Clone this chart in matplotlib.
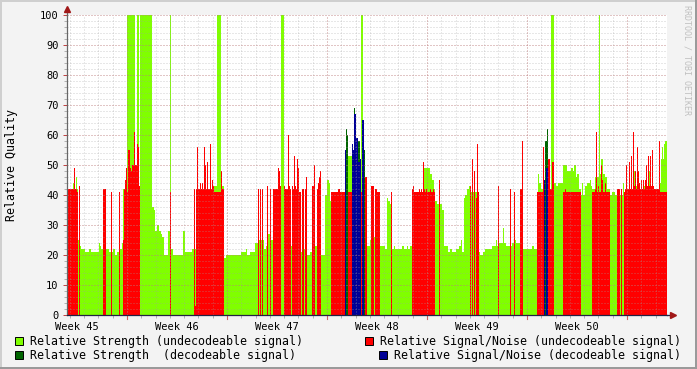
import numpy as np
import matplotlib
matplotlib.use('Agg')
import matplotlib.pyplot as plt
from matplotlib.patches import Rectangle

plt.rcParams['font.family'] = 'DejaVu Sans Mono'

# time axis: days from the left edge of the graph (six weeks shown)
t_end = 42.0

# Relative Strength (undecodeable signal) - step series (start day, value)
strength_t = [0.00, 0.42, 0.49, 0.63, 0.70, 0.77, 0.91, 0.98, 1.26, 1.54, 1.68, 2.24, 2.31, 2.38,
              2.52, 2.73, 2.94, 3.22, 3.36, 3.50, 3.71, 3.85, 3.92, 4.20, 4.76, 4.90, 5.04, 5.11,
              5.95, 6.09, 6.16, 6.30, 6.44, 6.58, 6.65, 6.79, 7.07, 7.21, 7.28, 7.42, 8.12, 8.26,
              8.75, 9.10, 10.29, 10.50, 10.78, 10.99, 11.13, 12.18, 12.53, 12.60, 12.81, 13.16,
              13.44, 13.79, 13.93, 14.07, 14.28, 14.42, 14.98, 15.19, 15.68, 15.75, 16.38, 16.59,
              16.80, 17.01, 17.36, 17.50, 17.78, 18.06, 18.20, 18.34, 18.41, 18.48, 19.67, 19.95,
              20.58, 20.72, 21.00, 21.21, 21.49, 21.56, 21.91, 22.26, 22.40, 22.47, 22.61, 22.75,
              22.89, 22.96, 23.45, 23.59, 23.80, 23.87, 24.01, 24.15, 24.92, 25.41, 25.55, 25.69,
              25.76, 25.90, 26.04, 26.11, 26.25, 26.39, 26.67, 26.81, 26.95, 27.23, 27.44, 27.58,
              27.65, 27.79, 27.86, 28.00, 28.14, 28.28, 28.84, 28.91, 29.12, 29.26, 29.75, 30.03,
              30.10, 30.24, 30.52, 30.59, 30.73, 31.15, 31.36, 31.43, 31.71, 31.92, 32.55, 32.69,
              32.90, 32.97, 33.04, 33.18, 33.32, 33.88, 34.09, 34.23, 34.37, 34.72, 35.00, 35.28,
              35.42, 35.49, 35.63, 35.70, 35.84, 35.98, 36.05, 36.12, 36.26, 36.40, 36.61, 36.68,
              36.75, 36.96, 37.24, 37.31, 37.38, 37.52, 37.66, 37.80, 38.01, 38.15, 38.36, 38.92,
              38.99, 39.69, 39.76, 39.83, 39.90, 40.39, 40.60, 40.74, 40.81, 41.09, 41.51, 41.58,
              41.65, 41.72, 41.79, 41.86]
strength_v = [42, 44, 42, 46, 42, 25, 23, 22, 21, 22, 21, 24, 23, 22,
              42, 22, 21, 22, 20, 21, 22, 24, 42, 100, 40, 100, 40, 100,
              36, 35, 28, 30, 28, 27, 26, 20, 28, 100, 22, 20, 28, 21,
              22, 40, 43, 100, 43, 19, 20, 21, 22, 20, 21, 24,
              25, 22, 23, 27, 25, 40, 100, 40, 23, 40, 21, 22,
              20, 21, 23, 40, 20, 40, 45, 44, 38, 40, 53, 40,
              100, 40, 23, 25, 26, 40, 23, 22, 39, 38, 37, 22,
              23, 22, 23, 22, 23, 22, 23, 40, 49, 47, 45, 42,
              38, 37, 38, 37, 35, 23, 21, 22, 21, 22, 23, 25,
              21, 39, 40, 42, 43, 41, 21, 20, 21, 22, 23, 25,
              23, 24, 29, 24, 23, 24, 25, 24, 40, 22, 23, 22,
              40, 47, 44, 42, 40, 100, 44, 43, 44, 50, 48, 49,
              48, 50, 46, 47, 42, 40, 44, 40, 43, 44, 45, 43,
              42, 46, 100, 47, 52, 47, 46, 42, 40, 41, 40, 44,
              40, 48, 40, 43, 40, 43, 40, 48, 40, 41, 44, 52,
              56, 52, 57, 58]

# Relative Signal/Noise (undecodeable signal), 0 = no data
snr_t = [0.00, 0.49, 0.56, 0.70, 0.77, 0.84, 0.91, 2.52, 2.73, 3.08, 3.15, 3.64, 3.71, 3.92,
         3.99, 4.06, 4.13, 4.20, 4.27, 4.41, 4.48, 4.55, 4.69, 4.76, 4.90, 4.97, 5.04, 5.11,
         7.21, 7.28, 8.89, 8.96, 9.03, 9.10, 9.17, 9.31, 9.38, 9.45, 9.52, 9.59, 9.66, 9.73,
         9.80, 9.87, 10.01, 10.08, 10.15, 10.22, 10.29, 10.78, 10.85, 10.99, 13.37, 13.44,
         13.51, 13.58, 13.65, 13.72, 14.00, 14.07, 14.21, 14.28, 14.42, 14.77, 14.84, 14.91,
         14.98, 15.19, 15.26, 15.47, 15.54, 15.61, 15.68, 15.75, 15.82, 15.89, 15.96, 16.03,
         16.10, 16.17, 16.24, 16.38, 16.45, 16.59, 16.66, 16.73, 16.80, 17.15, 17.29, 17.36,
         17.50, 17.57, 17.64, 17.71, 17.78, 18.48, 18.97, 19.11, 19.95, 20.02, 20.86, 21.00,
         21.28, 21.49, 21.56, 21.70, 21.91, 22.68, 22.75, 24.15, 24.22, 24.29, 24.64, 24.71,
         24.78, 24.85, 24.92, 24.99, 25.06, 25.13, 25.20, 25.41, 25.48, 25.62, 25.69, 25.76,
         26.04, 26.11, 28.21, 28.28, 28.35, 28.42, 28.49, 28.56, 28.63, 28.70, 28.77, 28.84,
         30.17, 30.24, 31.01, 31.08, 31.29, 31.36, 31.71, 31.85, 31.92, 32.90, 33.32, 33.39,
         33.67, 33.81, 33.95, 34.09, 34.72, 34.86, 34.93, 35.98, 36.75, 36.96, 37.03, 37.10,
         37.17, 37.24, 37.38, 37.45, 37.52, 37.66, 37.73, 38.01, 38.50, 38.71, 38.78, 38.85,
         38.99, 39.06, 39.13, 39.20, 39.34, 39.41, 39.48, 39.55, 39.62, 39.69, 39.76, 39.83,
         39.90, 39.97, 40.04, 40.11, 40.18, 40.25, 40.32, 40.39, 40.46, 40.53, 40.60, 40.67,
         40.74, 40.81, 40.88, 40.95, 41.02, 41.09, 41.44, 41.51]
snr_v = [42, 49, 42, 41, 0, 43, 0, 42, 0, 41, 0, 41, 0, 25,
         42, 45, 49, 41, 55, 49, 48, 50, 61, 50, 57, 56, 43, 0,
         41, 0, 42, 3, 42, 56, 42, 44, 42, 44, 42, 56, 50, 42,
         51, 42, 57, 42, 45, 43, 41, 48, 42, 0, 42, 0,
         42, 0, 42, 0, 43, 0, 42, 0, 42, 49, 48, 43,
         0, 43, 42, 60, 43, 42, 0, 43, 42, 53, 43, 42,
         52, 49, 41, 0, 42, 0, 42, 46, 0, 43, 50, 0,
         42, 44, 46, 48, 0, 41, 42, 41, 45, 41, 46, 0,
         43, 0, 42, 41, 0, 41, 0, 42, 43, 41, 42, 41,
         42, 41, 51, 42, 41, 42, 41, 42, 41, 42, 41, 0,
         45, 0, 43, 0, 52, 0, 48, 0, 39, 57, 41, 0,
         43, 0, 42, 0, 41, 0, 42, 58, 0, 41, 56, 41,
         52, 42, 51, 0, 41, 42, 41, 0, 41, 42, 61, 41,
         43, 41, 50, 45, 41, 44, 41, 0, 42, 0, 42, 0,
         41, 42, 50, 42, 51, 42, 53, 42, 61, 43, 48, 42,
         56, 48, 44, 42, 45, 42, 45, 42, 45, 50, 43, 53,
         43, 53, 43, 55, 43, 42, 58, 41]

# Relative Strength (decodeable signal)
dec_strength_t = [19.46, 19.53, 19.60, 19.67, 19.95, 20.09, 20.16, 20.51, 20.58, 20.79, 20.86,
                  33.46, 33.60, 33.67]
dec_strength_v = [55, 62, 60, 0, 55, 69, 58, 52, 0, 55, 0, 58, 62, 0]

# Relative Signal/Noise (decodeable signal)
dec_snr_t = [19.46, 19.53, 19.95, 20.02, 20.09, 20.23, 20.37, 20.51, 20.58, 20.65, 20.79,
             33.39, 33.46, 33.53, 33.67]
dec_snr_v = [55, 0, 57, 55, 67, 59, 51, 52, 0, 65, 0, 45, 0, 49, 0]

week_labels = ['Week 45', 'Week 46', 'Week 47', 'Week 48', 'Week 49', 'Week 50']
week_label_days = [0.7, 7.7, 14.7, 21.7, 28.7, 35.7]
week_start_days = [4.2, 11.2, 18.2, 25.2, 32.2, 39.2]

W, H = 697, 369
fig = plt.figure(figsize=(W / 100, H / 100), dpi=100, facecolor='#f3f3f3')
ax = fig.add_axes([67 / W, 1 - 315 / H, 600 / W, 300 / H])
ax.set_facecolor('white')


def area(t, v, color, z):
    x = np.append(t, t_end)
    y = np.append(v, v[-1])
    ax.fill_between(x, 0, y, step='post', color=color, lw=0, antialiased=False, zorder=z)


area(strength_t, strength_v, '#80ff00', 1)
area(snr_t, snr_v, '#ff0000', 2)
area(dec_strength_t, dec_strength_v, '#006400', 3)
area(dec_snr_t, dec_snr_v, '#000096', 4)

ax.set_xlim(0, t_end)
ax.set_ylim(0, 100)

# grid drawn on top of the areas, like rrdtool
for d in np.arange(0.2, t_end, 1.0):
    ax.axvline(d, color='#a0a0a0', alpha=0.5, lw=0.72, ls=(0, (1, 2)), zorder=5)
for y in range(2, 101, 2):
    ax.axhline(y, color='#a0a0a0', alpha=0.5, lw=0.72, ls=(0, (1, 2)), zorder=5)
for d in week_start_days:
    ax.axvline(d, color='#d06060', alpha=0.5, lw=0.72, ls=(0, (1, 2)), zorder=6)
    ax.axvline(d, ymin=-0.012, ymax=0, color='#d06060', lw=0.8, clip_on=False, zorder=6)
for y in range(10, 101, 10):
    ax.axhline(y, color='#d06060', alpha=0.5, lw=0.72, ls=(0, (1, 2)), zorder=6)

for s in ['top', 'right']:
    ax.spines[s].set_visible(False)
ax.spines['left'].set_color('#666666')
ax.spines['bottom'].set_color('#222244')
ax.spines['left'].set_linewidth(0.9)
ax.spines['bottom'].set_linewidth(0.9)
ax.spines['left'].set_zorder(8)
ax.spines['bottom'].set_zorder(8)

# axis extensions with arrow heads
ax.plot([0, 0], [100, 101.8], color='#666666', lw=0.9, clip_on=False, zorder=8)
ax.plot([0], [102.0], marker='^', ms=5, color='#a01818', clip_on=False, zorder=9)
ax.plot([t_end, t_end + 0.3], [0, 0], color='#222244', lw=0.9, clip_on=False, zorder=8)
ax.plot([t_end + 0.4], [0], marker='>', ms=5, color='#a01818', clip_on=False, zorder=9)

ax.set_yticks(range(0, 101, 10))
ax.set_yticks(range(0, 101, 2), minor=True)
ax.set_xticks(week_label_days, week_labels)
ax.set_xticks(np.arange(0.2, t_end, 1.0), minor=True)
ax.tick_params(axis='y', which='major', length=3, width=0.7, color='#c04040', labelsize=7.5, pad=3)
ax.tick_params(axis='y', which='minor', length=2, width=0.7, color='#b0b0b0')
ax.tick_params(axis='x', which='major', length=0, labelsize=7.5, pad=5)
ax.tick_params(axis='x', which='minor', length=2, width=0.7, color='#b0b0b0')

fig.text(12 / W, 1 - 165 / H, 'Relative Quality', rotation=90, ha='center', va='center', fontsize=8.4)
fig.text(687 / W, 1 - 5 / H, 'RRDTOOL / TOBI OETIKER', rotation=270, ha='center', va='top',
         fontsize=6, color='#c0c0c0')

legend_items = [
    (15, 341, '#80ff00', 'Relative Strength (undecodeable signal)'),
    (365, 341, '#ff0000', 'Relative Signal/Noise (undecodeable signal)'),
    (15, 355, '#006400', 'Relative Strength  (decodeable signal)'),
    (379, 355, '#000096', 'Relative Signal/Noise (decodeable signal)'),
]
for x, y, c, label in legend_items:
    fig.patches.append(Rectangle((x / W, 1 - (y + 4) / H), 8 / W, 8 / H, transform=fig.transFigure,
                                 facecolor=c, edgecolor='black', lw=0.7))
    fig.text((x + 15) / W, 1 - y / H, label, ha='left', va='center', fontsize=8.4)

# rrdtool style frame
fig.patches.append(Rectangle((0, 1 - 2 / H), 1, 2 / H, transform=fig.transFigure, color='#cfcfcf', lw=0))
fig.patches.append(Rectangle((0, 0), 2 / W, 1, transform=fig.transFigure, color='#cfcfcf', lw=0))
fig.patches.append(Rectangle((0, 0), 1, 2 / H, transform=fig.transFigure, color='#9a9a9a', lw=0))
fig.patches.append(Rectangle((1 - 2 / W, 0), 2 / W, 1, transform=fig.transFigure, color='#9a9a9a', lw=0))

fig.savefig('out.png', dpi=100, facecolor=fig.get_facecolor())
